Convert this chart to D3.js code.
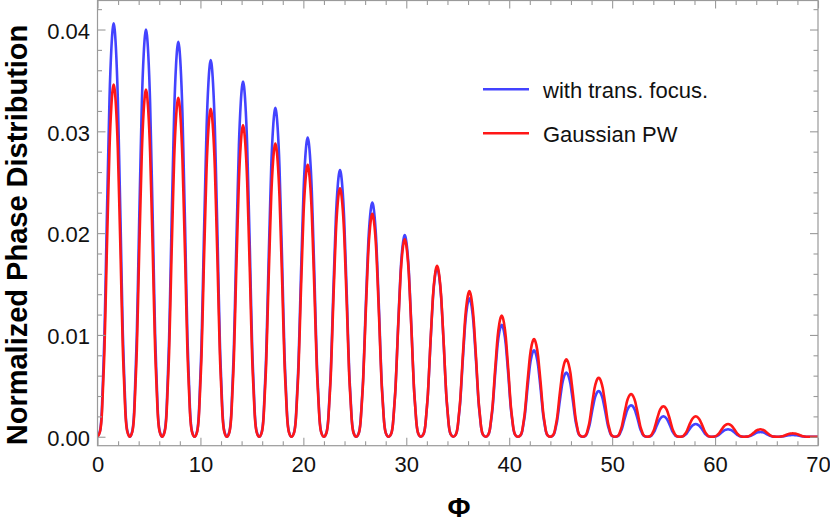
<!DOCTYPE html>
<html>
<head>
<meta charset="utf-8">
<script src="https://cdn.jsdelivr.net/npm/d3@7"></script>
<style>
  body { margin: 0; background: #fff; }
  text { font-family: "Liberation Sans", Arial, sans-serif; }
</style>
</head>
<body>
<svg id="chart" width="830" height="524"></svg>
<script>
// Peak positions of the lobes (Phi)
var phiPeaks = [1.57, 4.71, 7.85, 11.00, 14.14, 17.28, 20.42, 23.56, 26.70, 29.85, 32.99,
                36.13, 39.27, 42.41, 45.55, 48.69, 51.84, 54.98, 58.12, 61.26, 64.40, 67.54];

// Peak heights of each lobe
var focusPeaks = [0.0406, 0.0400, 0.0388, 0.0370, 0.0349, 0.0323, 0.0294, 0.0262, 0.0230, 0.0198, 0.0166,
                  0.0136, 0.0110, 0.0085, 0.0063, 0.0045, 0.0031, 0.0020, 0.00125, 0.00073, 0.00046, 0.00017];
var gaussPeaks = [0.0346, 0.0341, 0.0333, 0.0322, 0.0306, 0.0288, 0.0267, 0.0244, 0.0219, 0.0194, 0.0168,
                  0.0143, 0.0119, 0.0096, 0.0076, 0.0058, 0.0042, 0.0030, 0.0020, 0.00125, 0.00073, 0.00033];

// Shape of one half lobe, read from the first lobe: [distance from zero, fraction of peak]
var lobeHalfWidth = 1.5708;
var lobeProfile = [[0, 0], [0.25, 0.015], [0.42, 0.062], [0.55, 0.15], [0.68, 0.25], [0.8, 0.39],
                   [0.91, 0.53], [1.05, 0.69], [1.17, 0.82], [1.35, 0.94], [1.47, 0.985], [1.5708, 1]];

var seriesNames = ["with trans. focus.", "Gaussian PW"];
var xTicks = [0, 10, 20, 30, 40, 50, 60, 70];
var yTicks = [0, 0.01, 0.02, 0.03, 0.04];

var svg = d3.select("svg#chart");

var pLeft = 97.5, pRight = 818, pTop = 0.5, pBottom = 445.7;

var x = d3.scaleLinear().domain([0, 70]).range([pLeft, pRight]);
var y = d3.scaleLinear().domain([-0.00088, 0.04285]).range([pBottom, pTop]);

// build the line points of a series from its peak heights
function lobePoints(peaks) {
  var pts = [];
  peaks.forEach(function(a, k) {
    var c = phiPeaks[k];
    lobeProfile.forEach(function(p, i) {
      if (k > 0 && i === 0) return;
      pts.push([c - lobeHalfWidth + p[0], a * p[1]]);
    });
    for (var i = lobeProfile.length - 2; i >= 0; i--) {
      var p = lobeProfile[i];
      pts.push([c + lobeHalfWidth - p[0], a * p[1]]);
    }
  });
  pts.push([70, 0]);
  return pts;
}

var line = d3.line()
  .x(function(d) { return x(d[0]); })
  .y(function(d) { return y(d[1]); })
  .curve(d3.curveMonotoneX);

svg.append("defs").append("clipPath").attr("id", "plotclip")
  .append("rect")
  .attr("x", pLeft).attr("y", pTop)
  .attr("width", pRight - pLeft).attr("height", pBottom - pTop);

var colors = ["#4343ff", "#ff1717"];

var plot = svg.append("g").attr("clip-path", "url(#plotclip)");
[focusPeaks, gaussPeaks].forEach(function(peaks, i) {
  plot.append("path")
    .datum(lobePoints(peaks))
    .attr("fill", "none")
    .attr("stroke", colors[i])
    .attr("stroke-width", 2.6)
    .attr("stroke-linejoin", "round")
    .attr("d", line);
});

// Frame and ticks (inward, all four sides)
var frameColor = "#9a9a9a";
var xMinor = d3.range(0, 71, 2).filter(function(v) { return v % 10 !== 0; });
var yMinor = d3.range(0, 43, 2).map(function(v) { return v / 1000; })
  .filter(function(v) { return Math.round(v * 1000) % 10 !== 0; });

function styleAxis(g) {
  g.select(".domain").remove();
  g.selectAll(".tick line").attr("stroke", frameColor).attr("stroke-width", 1.1);
  g.selectAll(".tick text")
    .attr("fill", "#111")
    .style("font-size", "22px")
    .style("font-family", "'Liberation Sans', Arial, sans-serif");
}

// bottom
svg.append("g").attr("transform", "translate(0," + pBottom + ")")
  .call(d3.axisBottom(x).tickValues(xTicks).tickSize(-8).tickPadding(10.4).tickFormat(d3.format("d")))
  .call(styleAxis);
svg.append("g").attr("transform", "translate(0," + pBottom + ")")
  .call(d3.axisBottom(x).tickValues(xMinor).tickSize(-4.5).tickFormat(""))
  .call(styleAxis);
// top
svg.append("g").attr("transform", "translate(0," + pTop + ")")
  .call(d3.axisTop(x).tickValues(xTicks).tickSize(-8).tickFormat(""))
  .call(styleAxis);
svg.append("g").attr("transform", "translate(0," + pTop + ")")
  .call(d3.axisTop(x).tickValues(xMinor).tickSize(-4.5).tickFormat(""))
  .call(styleAxis);
// left
svg.append("g").attr("transform", "translate(" + pLeft + ",0)")
  .call(d3.axisLeft(y).tickValues(yTicks).tickSize(-8).tickPadding(7.5).tickFormat(d3.format(".2f")))
  .call(styleAxis)
  .selectAll(".tick text").attr("dy", "0.4em");
svg.append("g").attr("transform", "translate(" + pLeft + ",0)")
  .call(d3.axisLeft(y).tickValues(yMinor).tickSize(-4.5).tickFormat(""))
  .call(styleAxis);
// right
svg.append("g").attr("transform", "translate(" + pRight + ",0)")
  .call(d3.axisRight(y).tickValues(yTicks).tickSize(-8).tickFormat(""))
  .call(styleAxis);
svg.append("g").attr("transform", "translate(" + pRight + ",0)")
  .call(d3.axisRight(y).tickValues(yMinor).tickSize(-4.5).tickFormat(""))
  .call(styleAxis);

svg.append("rect")
  .attr("x", pLeft).attr("y", pTop)
  .attr("width", pRight - pLeft).attr("height", pBottom - pTop)
  .attr("fill", "none")
  .attr("stroke", frameColor)
  .attr("stroke-width", 1.2);

// Axis labels
svg.append("text")
  .attr("transform", "rotate(-90)")
  .attr("x", -235)
  .attr("y", 27)
  .attr("text-anchor", "middle")
  .attr("font-weight", "bold")
  .attr("font-size", "29px")
  .text("Normalized Phase Distribution");

svg.append("text")
  .attr("x", 459)
  .attr("y", 517)
  .attr("text-anchor", "middle")
  .attr("font-weight", "bold")
  .attr("font-size", "28px")
  .text("Φ");

// Legend
var legend = svg.append("g");
seriesNames.forEach(function(name, i) {
  var ly = 89.3 + i * 44;
  legend.append("line")
    .attr("x1", 483).attr("x2", 529)
    .attr("y1", ly).attr("y2", ly)
    .attr("stroke", colors[i])
    .attr("stroke-width", 2.4);
  legend.append("text")
    .attr("x", 543)
    .attr("y", ly + 9)
    .attr("font-size", "22px")
    .attr("fill", "#111")
    .text(name);
});
</script>
</body>
</html>
